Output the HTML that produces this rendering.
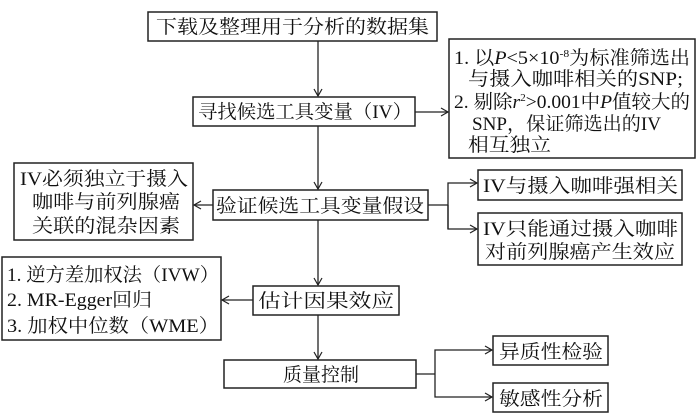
<!DOCTYPE html>
<html><head><meta charset="utf-8"><style>
html,body{margin:0;padding:0;background:#fff;}
svg{display:block}
text{font-family:"Liberation Serif","Noto Serif CJK SC",serif;font-size:19px;fill:#111;}
</style></head><body>
<svg width="700" height="420" viewBox="0 0 700 420" xmlns="http://www.w3.org/2000/svg">
<defs><marker id="a" markerWidth="10" markerHeight="10" refX="8" refY="5" orient="auto" markerUnits="userSpaceOnUse"><path d="M1,1 L8,5 L1,9" fill="none" stroke="#222" stroke-width="1.2"/></marker></defs>
<g fill="none" stroke="#222" stroke-width="1.5">
<rect x="148" y="12" width="289" height="29"/>
<rect x="193" y="97" width="222" height="29"/>
<rect x="449" y="39" width="246" height="119"/>
<rect x="213" y="190" width="215" height="30"/>
<rect x="14" y="163" width="179" height="77"/>
<rect x="478" y="170" width="204" height="30"/>
<rect x="478" y="213" width="204" height="52"/>
<rect x="253" y="286" width="146" height="29"/>
<rect x="2" y="257" width="219" height="83"/>
<rect x="224" y="360" width="192" height="28"/>
<rect x="493" y="336" width="115" height="29"/>
<rect x="493" y="383" width="115" height="29"/>
</g>
<g fill="none" stroke="#222" stroke-width="1.3">
<line x1="318" y1="41" x2="318" y2="96" marker-end="url(#a)"/>
<line x1="415" y1="112" x2="448" y2="112" marker-end="url(#a)"/>
<line x1="318" y1="126" x2="318" y2="189" marker-end="url(#a)"/>
<line x1="213" y1="205" x2="194" y2="205" marker-end="url(#a)"/>
<polyline points="428,205 448,205"/>
<polyline points="448,229 448,183 477,183" marker-end="url(#a)"/>
<polyline points="448,205 448,229 477,229" marker-end="url(#a)"/>
<line x1="318" y1="220" x2="318" y2="285" marker-end="url(#a)"/>
<line x1="253" y1="300" x2="222" y2="300" marker-end="url(#a)"/>
<line x1="318" y1="315" x2="318" y2="359" marker-end="url(#a)"/>
<line x1="416" y1="374" x2="435" y2="374"/>
<polyline points="435,374 435,350 492,350" marker-end="url(#a)"/>
<polyline points="435,374 435,397 492,397" marker-end="url(#a)"/>
</g>
<text x="156" y="33" textLength="273" lengthAdjust="spacingAndGlyphs">下载及整理用于分析的数据集</text>
<text x="198" y="118" textLength="214" lengthAdjust="spacingAndGlyphs">寻找候选工具变量（IV）</text>
<text x="454" y="64" textLength="236" lengthAdjust="spacingAndGlyphs">1. 以<tspan font-style="italic">P</tspan>&lt;5×10<tspan font-size="11" dy="-7">-8</tspan><tspan dy="7">为标准筛选出</tspan></text>
<text x="468" y="85" textLength="215" lengthAdjust="spacingAndGlyphs">与摄入咖啡相关的SNP;</text>
<text x="454" y="108" textLength="236" lengthAdjust="spacingAndGlyphs">2. 剔除<tspan font-style="italic">r</tspan><tspan font-size="11" dy="-7">2</tspan><tspan dy="7">&gt;0.001中</tspan><tspan font-style="italic">P</tspan>值较大的</text>
<text x="472" y="130" textLength="189" lengthAdjust="spacingAndGlyphs">SNP，保证筛选出的IV</text>
<text x="468" y="151" textLength="83" lengthAdjust="spacingAndGlyphs">相互独立</text>
<text x="216" y="212" textLength="208" lengthAdjust="spacingAndGlyphs">验证候选工具变量假设</text>
<text x="20" y="185" textLength="168" lengthAdjust="spacingAndGlyphs">IV必须独立于摄入</text>
<text x="32" y="208" textLength="148" lengthAdjust="spacingAndGlyphs">咖啡与前列腺癌</text>
<text x="32" y="232" textLength="148" lengthAdjust="spacingAndGlyphs">关联的混杂因素</text>
<text x="483" y="192" textLength="195" lengthAdjust="spacingAndGlyphs">IV与摄入咖啡强相关</text>
<text x="483" y="235" textLength="195" lengthAdjust="spacingAndGlyphs">IV只能通过摄入咖啡</text>
<text x="485" y="258" textLength="190" lengthAdjust="spacingAndGlyphs">对前列腺癌产生效应</text>
<text x="258" y="307" textLength="136" lengthAdjust="spacingAndGlyphs">估计因果效应</text>
<text x="7" y="281" textLength="212" lengthAdjust="spacingAndGlyphs">1. 逆方差加权法（IVW）</text>
<text x="7" y="306" textLength="145" lengthAdjust="spacingAndGlyphs">2. MR-Egger回归</text>
<text x="7" y="332" textLength="212" lengthAdjust="spacingAndGlyphs">3. 加权中位数（WME）</text>
<text x="283" y="381" textLength="76" lengthAdjust="spacingAndGlyphs">质量控制</text>
<text x="499" y="358" textLength="104" lengthAdjust="spacingAndGlyphs">异质性检验</text>
<text x="499" y="405" textLength="104" lengthAdjust="spacingAndGlyphs">敏感性分析</text>
</svg>
</body></html>
